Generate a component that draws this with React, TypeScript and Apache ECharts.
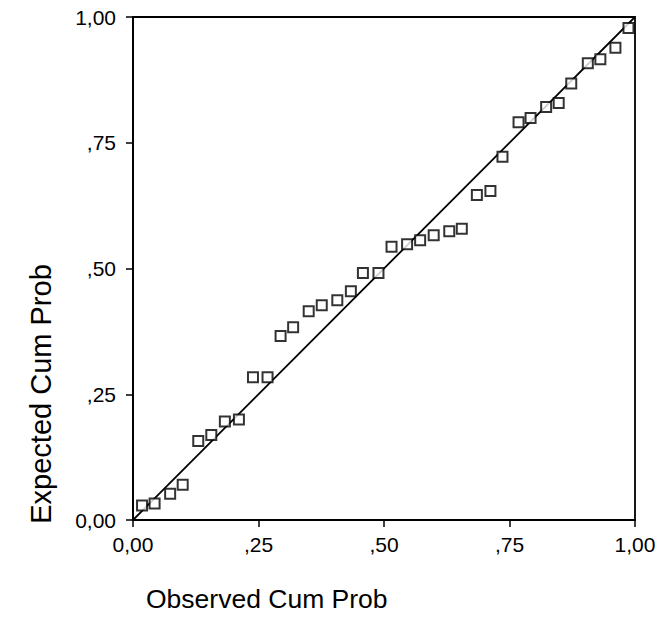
import React, { useEffect, useRef } from "react";
import * as echarts from "echarts";

const observed = [
  0.018, 0.043, 0.074, 0.099, 0.13, 0.156, 0.183, 0.211, 0.239, 0.268, 0.294, 0.319,
  0.35, 0.376, 0.407, 0.434, 0.458, 0.489, 0.515, 0.546, 0.572, 0.599, 0.63, 0.655,
  0.685, 0.712, 0.736, 0.768, 0.792, 0.823, 0.848, 0.873, 0.906, 0.931, 0.961, 0.987,
];
const expected = [
  0.029, 0.033, 0.052, 0.07, 0.157, 0.169, 0.196, 0.2, 0.284, 0.284, 0.366, 0.383,
  0.415, 0.427, 0.437, 0.455, 0.491, 0.491, 0.543, 0.548, 0.556, 0.566, 0.574, 0.579,
  0.646, 0.654, 0.722, 0.791, 0.799, 0.821, 0.829, 0.868, 0.908, 0.916, 0.939, 0.978,
];
const refLineX = [0, 1];
const refLineY = [0, 1];
const tickLabels = ["0,00", ",25", ",50", ",75", "1,00"];
const xTitle = "Observed Cum Prob";
const yTitle = "Expected Cum Prob";

const FONT = "'Liberation Sans', Arial, sans-serif";

export default function App() {
  const ref = useRef<HTMLDivElement>(null);
  useEffect(() => {
    if (!ref.current) return;
    const chart = echarts.init(ref.current, null, { renderer: "svg" });
    const fmt = (v: number) => tickLabels[Math.round(v / 0.25)] ?? "";
    const axisCommon = {
      type: "value" as const,
      min: 0,
      max: 1,
      interval: 0.25,
      axisLine: { show: true, lineStyle: { color: "#000", width: 1.8 } },
      axisTick: { show: true, inside: false, length: 7, lineStyle: { color: "#000", width: 1.5 } },
      splitLine: { show: false },
      axisLabel: {
        formatter: fmt,
        color: "#000",
        fontSize: 21,
        fontFamily: FONT,
      },
    };
    chart.setOption({
      animation: false,
      backgroundColor: "#fff",
      grid: {
        left: 133,
        top: 17,
        width: 502,
        height: 503,
        show: true,
        borderColor: "#000",
        borderWidth: 1.8,
        backgroundColor: "transparent",
      },
      xAxis: { ...axisCommon, axisLabel: { ...axisCommon.axisLabel, margin: 14 } },
      yAxis: { ...axisCommon, axisLabel: { ...axisCommon.axisLabel, margin: 17 } },
      graphic: [
        {
          type: "text",
          left: 146,
          top: 585,
          style: { text: xTitle, fill: "#000", fontSize: 26.5, fontFamily: FONT },
        },
        {
          type: "text",
          x: 41,
          y: 394,
          rotation: Math.PI / 2,
          style: {
            text: yTitle,
            fill: "#000",
            fontSize: 29,
            fontFamily: FONT,
            align: "center",
            verticalAlign: "middle",
          },
        },
      ],
      series: [
        {
          type: "line",
          data: refLineX.map((x, i) => [x, refLineY[i]]),
          showSymbol: false,
          symbol: "none",
          lineStyle: { color: "#000", width: 1.8 },
          z: 2,
        },
        {
          type: "scatter",
          data: observed.map((x, i) => [x, expected[i]]),
          symbol: "rect",
          symbolSize: 10,
          itemStyle: { color: "#fff", borderColor: "#000", borderWidth: 2 },
          z: 3,
        },
      ],
    });
    return () => chart.dispose();
  }, []);
  return (
    <div
      ref={ref}
      style={{ position: "fixed", left: 0, top: 0, width: 671, height: 636, background: "#fff" }}
    />
  );
}
